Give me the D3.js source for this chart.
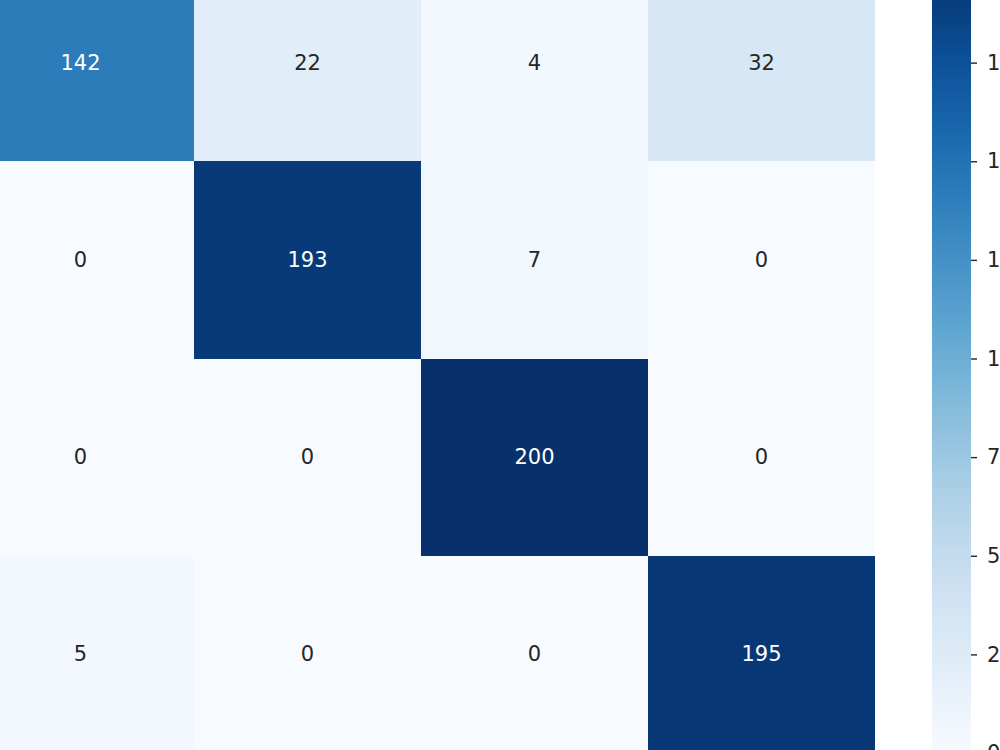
<!DOCTYPE html>
<html>
<head>
<meta charset="utf-8">
<script src="https://cdn.jsdelivr.net/npm/d3@7"></script>
<style>
html,body{margin:0;padding:0;background:#fff;overflow:hidden;}
svg{display:block;font-family:"DejaVu Sans",sans-serif;}
</style>
</head>
<body>
<svg id="chart" width="1000" height="750"></svg>
<script>
// Data
const rowLabels = ["0", "1", "2", "3"];
const colLabels = ["0", "1", "2", "3"];
const row0 = [142, 22, 4, 32];
const row1 = [0, 193, 7, 0];
const row2 = [0, 0, 200, 0];
const row3 = [5, 0, 0, 195];
const matrix = [row0, row1, row2, row3];
const colorbarTicks = [0, 25, 50, 75, 100, 125, 150, 175, 200];
const vmin = 0, vmax = 200;

(function () {
const svg = d3.select("#chart");

// Layout (heatmap extends past the visible frame, as in the reference crop)
const mLeft = -33, mRight = 875, mTop = -36, mBottom = 753;

const x = d3.scaleBand().domain(colLabels).range([mLeft, mRight]).padding(0);
const y = d3.scaleBand().domain(rowLabels).range([mTop, mBottom]).padding(0);
const color = d3.scaleSequential(d3.interpolateBlues).domain([vmin, vmax]);

const cells = [];
matrix.forEach((r, i) => r.forEach((v, j) => cells.push({row: rowLabels[i], col: colLabels[j], v})));

svg.append("g").selectAll("rect").data(cells).join("rect")
  .attr("x", d => x(d.col))
  .attr("y", d => y(d.row))
  .attr("width", x.bandwidth())
  .attr("height", y.bandwidth())
  .attr("fill", d => color(d.v))
  .attr("shape-rendering", "crispEdges");

function lin(c) {
  c = c / 255;
  return c <= 0.03928 ? c / 12.92 : Math.pow((c + 0.055) / 1.055, 2.4);
}
function textColor(v) {
  const c = d3.rgb(color(v));
  const lum = 0.2126 * lin(c.r) + 0.7152 * lin(c.g) + 0.0722 * lin(c.b);
  return lum <= 0.408 ? "#ffffff" : "#262626";
}

svg.append("g").selectAll("text").data(cells).join("text")
  .attr("x", d => x(d.col) + x.bandwidth() / 2)
  .attr("y", d => y(d.row) + y.bandwidth() / 2)
  .attr("text-anchor", "middle")
  .attr("dominant-baseline", "central")
  .attr("font-size", "21px")
  .attr("fill", d => textColor(d.v))
  .text(d => d.v);

// Colorbar
const cbX = 932, cbW = 39;
const cbScale = d3.scaleLinear().domain([vmin, vmax]).range([mBottom, mTop]);

const defs = svg.append("defs");
const grad = defs.append("linearGradient").attr("id", "cbgrad")
  .attr("x1", 0).attr("y1", 1).attr("x2", 0).attr("y2", 0);
d3.range(0, 1.0001, 0.02).forEach(t => {
  grad.append("stop").attr("offset", t).attr("stop-color", d3.interpolateBlues(t));
});

svg.append("rect")
  .attr("x", cbX).attr("y", cbScale(vmax))
  .attr("width", cbW).attr("height", cbScale(vmin) - cbScale(vmax))
  .attr("fill", "url(#cbgrad)");

const cbAxis = d3.axisRight(cbScale).tickValues(colorbarTicks).tickSize(6).tickPadding(10);
const ag = svg.append("g").attr("transform", `translate(${cbX + cbW},0)`).call(cbAxis);
ag.select(".domain").remove();
ag.selectAll(".tick line").attr("stroke", "#262626").attr("stroke-width", 1.4);
ag.selectAll(".tick text").attr("font-size", "21px").attr("fill", "#262626")
  .attr("font-family", "DejaVu Sans, sans-serif");
})();
</script>
</body>
</html>
